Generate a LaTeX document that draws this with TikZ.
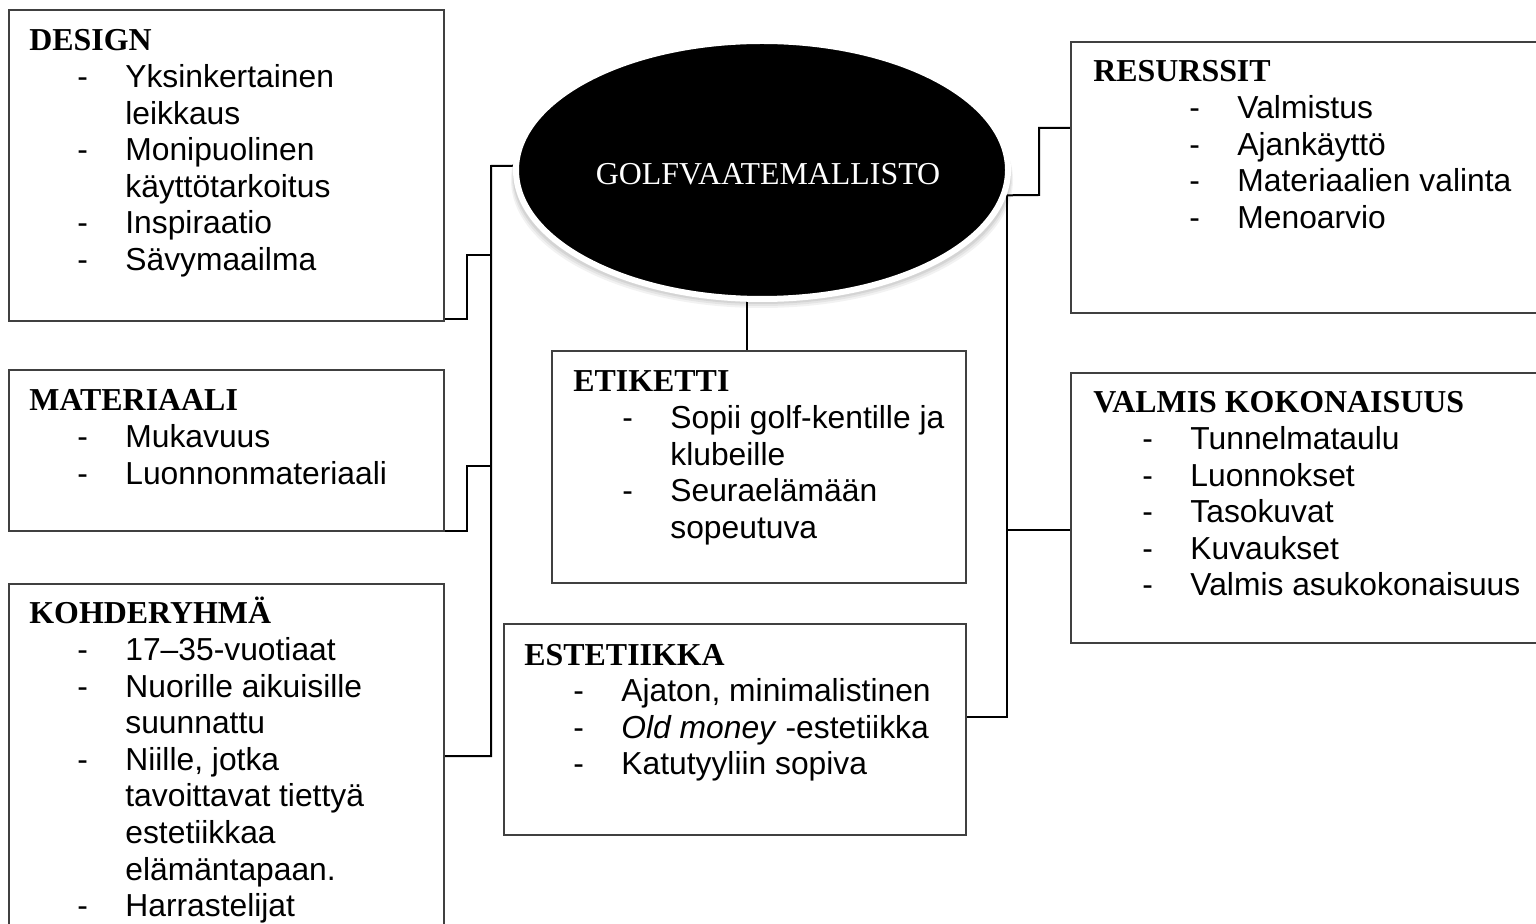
\documentclass[tikz,border=0pt]{standalone}
\usepackage{fontspec}
\setmainfont{Liberation Sans}
\newfontfamily\tnrfam{Liberation Serif}
\usetikzlibrary{shapes.geometric,fit,backgrounds}
\newcommand\hdrfont{\tnrfam\bfseries\fontsize{15.95pt}{18.3pt}\selectfont}
\newcommand\golffont{\tnrfam\fontsize{15.95pt}{18.3pt}\selectfont}
\newcommand\itemfont{\fontsize{15.9pt}{18.3pt}\selectfont}
\newcommand\itemlist[1]{\begin{tabular}[t]{@{}p{24pt}@{}l@{}}#1\end{tabular}}
\begin{document}
\begin{tikzpicture}[x=0.5pt,y=-0.5pt,
  box/.style={draw=black!75, line width=0.7pt, inner sep=0pt, outer sep=0pt},
  conn/.style={draw=black, line width=1pt},
  hdr/.style={anchor=base west, inner sep=0pt, font=\hdrfont},
  items/.style={anchor=base west, inner sep=0pt, font=\itemfont}]
\useasboundingbox (0,0) rectangle (1536,924);
\clip (0,0) rectangle (1536,924);

% boxes
\node[box, fit={(9,10) (444,321)}] (design) {};
\node[box, fit={(9,370) (444,531)}] (materiaali) {};
\node[box, fit={(9,584) (444,945)}] (kohde) {};
\node[box, fit={(552,351) (966,583)}] (etiketti) {};
\node[box, fit={(504,624) (966,835)}] (estetiikka) {};
\node[box, fit={(1071,42) (1545,313)}] (resurssit) {};
\node[box, fit={(1071,373) (1545,643)}] (valmis) {};

% central ellipse
\node[ellipse, fill=black, draw=white, line width=3pt, minimum width=246pt,
      minimum height=129pt, inner sep=0pt, outer sep=0pt] (golf) at (762,170) {};
\node[anchor=base, inner sep=0pt, text=white, font=\golffont] (golftxt) at (768,185) {GOLFVAATEMALLISTO};

\begin{pgfonlayer}{background}
  \fill[black, opacity=0.05] (762,180) ellipse [x radius=125.5pt, y radius=64pt];
  \fill[black, opacity=0.06] (762,178) ellipse [x radius=125pt, y radius=64pt];
  \fill[black, opacity=0.07] (762,176) ellipse [x radius=124.5pt, y radius=64pt];
  \coordinate (tl) at (491,166);
  \coordinate (bl) at (491,756);
  \coordinate (d1) at (491,255); \coordinate (d2) at (467,255); \coordinate (d3) at (467,319);
  \coordinate (m1) at (491,466); \coordinate (m2) at (467,466); \coordinate (m3) at (467,531);
  \coordinate (r1) at (1039,195); \coordinate (r2) at (1039,128);
  \coordinate (t1) at (1007,195); \coordinate (t2) at (1007,717); \coordinate (t3) at (1007,530);
  \coordinate (c1) at (747,290);
  \draw[conn] (golf.179) -- (tl) -- (bl) -- (bl -| kohde.east);
  \draw[conn] (d1) -- (d2) -- (d3) -- (d3 -| design.east);
  \draw[conn] (m1) -- (m2) -- (m3) -- (m3 -| materiaali.east);
  \draw[conn] (golf.-6) -- (r1) -- (r2) -- (r2 -| resurssit.west);
  \draw[conn] (t1) -- (t2) -- (t2 -| estetiikka.east);
  \draw[conn] (t3) -- (t3 -| valmis.west);
  \draw[conn] (c1) -- (c1 |- etiketti.north);
\end{pgfonlayer}

% texts
\node[hdr] (designh) at (29,51) {DESIGN};
\node[items] (designi) at (77,87.6) {\itemlist{-&Yksinkertainen\\ &leikkaus\\ -&Monipuolinen\\ &käyttötarkoitus\\ -&Inspiraatio\\ -&Sävymaailma}};

\node[hdr] (materiaalih) at (29,411) {MATERIAALI};
\node[items] (materiaalii) at (77,447.6) {\itemlist{-&Mukavuus\\ -&Luonnonmateriaali}};

\node[hdr] (kohdeh) at (29,624) {KOHDERYHMÄ};
\node[items] (kohdei) at (77,660.6) {\itemlist{-&17–35-vuotiaat\\ -&Nuorille aikuisille\\ &suunnattu\\ -&Niille, jotka\\ &tavoittavat tiettyä\\ &estetiikkaa\\ &elämäntapaan.\\ -&Harrastelijat}};

\node[hdr] (etikettih) at (573,392) {ETIKETTI};
\node[items] (etikettii) at (622,428.6) {\itemlist{-&Sopii golf-kentille ja\\ &klubeille\\ -&Seuraelämään\\ &sopeutuva}};

\node[hdr] (estetiikkah) at (524,665) {ESTETIIKKA};
\node[items] (estetiikkai) at (573,701.6) {\itemlist{-&Ajaton, minimalistinen\\ -&\textit{Old money} -estetiikka\\ -&Katutyyliin sopiva}};

\node[hdr] (resurssith) at (1093,82) {RESURSSIT};
\node[items] (resurssiti) at (1189,118.6) {\itemlist{-&Valmistus\\ -&Ajankäyttö\\ -&Materiaalien valinta\\ -&Menoarvio}};

\node[hdr] (valmish) at (1093,413) {VALMIS KOKONAISUUS};
\node[items] (valmisi) at (1142,449.6) {\itemlist{-&Tunnelmataulu\\ -&Luonnokset\\ -&Tasokuvat\\ -&Kuvaukset\\ -&Valmis asukokonaisuus}};
\end{tikzpicture}
\end{document}
